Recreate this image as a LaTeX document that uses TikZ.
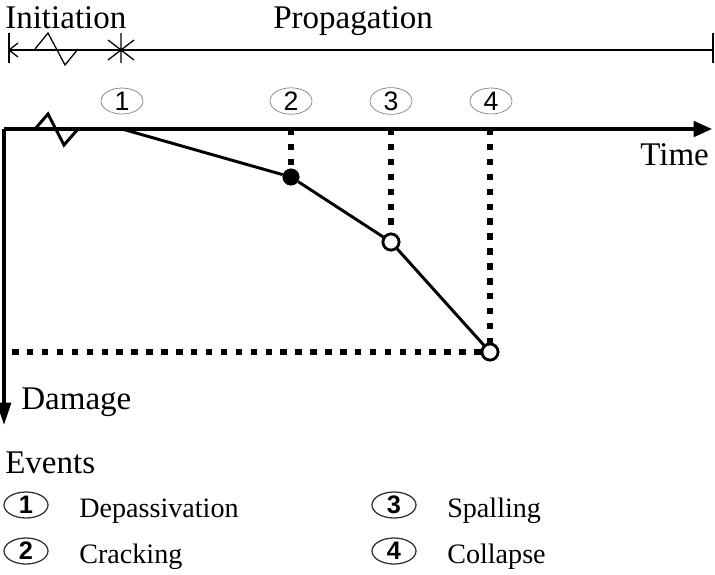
\documentclass[tikz,border=0pt]{standalone}
\usepackage{fontspec}
\setmainfont{Liberation Serif}
\newfontfamily\numfont{Liberation Sans}
\usetikzlibrary{arrows.meta,shapes.geometric}

\tikzset{
    axis/.style={line width=2.2pt},
    phaseline/.style={line width=0.9pt},
    curve/.style={line width=2.1pt},
    dashline/.style={line width=3.6pt, dash pattern=on 4.6pt off 6pt},
    txt/.style={inner sep=0pt, anchor=base west, font=\fontsize{23.5}{28}\selectfont},
    ltxt/.style={inner sep=0pt, anchor=base west, font=\fontsize{20}{24}\selectfont},
    evt/.style={ellipse, draw=gray, line width=0.5pt, inner sep=0pt,
        minimum width=1.05cm, minimum height=0.6cm, font=\numfont\fontsize{19}{21}\selectfont},
    levt/.style={ellipse, draw=black!80, line width=0.9pt, inner sep=0pt,
        minimum width=1.1cm, minimum height=0.65cm, font=\numfont\bfseries\fontsize{18}{20}\selectfont},
    fdot/.style={circle, fill=black, inner sep=0pt, minimum size=0.42cm},
    odot/.style={circle, draw=black, fill=white, line width=1.9pt, inner sep=0pt, minimum size=0.4cm}
}

\begin{document}
\begin{tikzpicture}[x=0.025cm,y=-0.025cm]
    \useasboundingbox (0,0) rectangle (715,574);

    % phases
    \draw[phaseline] (9,50) -- (713,50);
    \draw[phaseline] (9,33) -- (9,63);
    \draw[phaseline] (713,33) -- (713,63);
    \draw[phaseline] (18,43) -- (9,50) -- (18,57);
    \draw[phaseline] (35,49) -- (48,33) -- (65,65) -- (78,49);
    \draw[phaseline] (121,33) -- (121,63) (108,40) -- (134,60) (108,60) -- (134,40);
    \node[txt] (init) at (5,28) {Initiation};
    \node[txt] (prop) at (273,28) {Propagation};

    % events on the time axis
    \foreach \n/\x in {1/122,2/291,3/391,4/491}
        \node[evt] (e\n) at (\x,101) {\n};

    % axes
    \coordinate (O) at (4,129);
    \coordinate (tend) at (712,129);
    \coordinate (dend) at (4,425);
    \draw[axis,-{Triangle[length=13pt,width=11pt]}] (O) -- (tend);
    \draw[axis,-{Triangle[length=16pt,width=10pt]}] (O) -- (dend);
    \draw[curve] (35,129) -- (48,114) -- (64,145) -- (78,129);
    \node[txt] (time) at (640,165) {Time};
    \node[txt] (dmg) at (21,409) {Damage};

    % damage path
    \coordinate (t1) at (122,129);
    \coordinate (t2) at (291,129);
    \coordinate (t3) at (391,129);
    \coordinate (t4) at (490,129);
    \coordinate (d4) at (8,352);
    \node[fdot] (p2) at (291,177) {};
    \node[odot] (p3) at (391,242) {};
    \node[odot] (p4) at (490,352) {};
    \draw[dashline] (t2) -- (p2);
    \draw[dashline] (t3) -- (p3);
    \draw[dashline] (t4) -- (p4);
    \draw[dashline] (p4) -- (d4);
    \draw[curve] (t1) -- (p2) -- (p3) -- (p4);
    \node[fdot] at (p2) {};
    \node[odot] at (p3) {};
    \node[odot] at (p4) {};

    % legend
    \node[txt] (events) at (5,473) {Events};
    \foreach \n/\x/\y/\t in {1/26/505/Depassivation,2/26/551/Cracking,3/394/505/Spalling,4/394/551/Collapse} {
        \node[levt] (l\n) at (\x,\y) {\n};
        \node[ltxt] (lt\n) at (\x+53,\y+12) {\t};
    }
\end{tikzpicture}
\end{document}
